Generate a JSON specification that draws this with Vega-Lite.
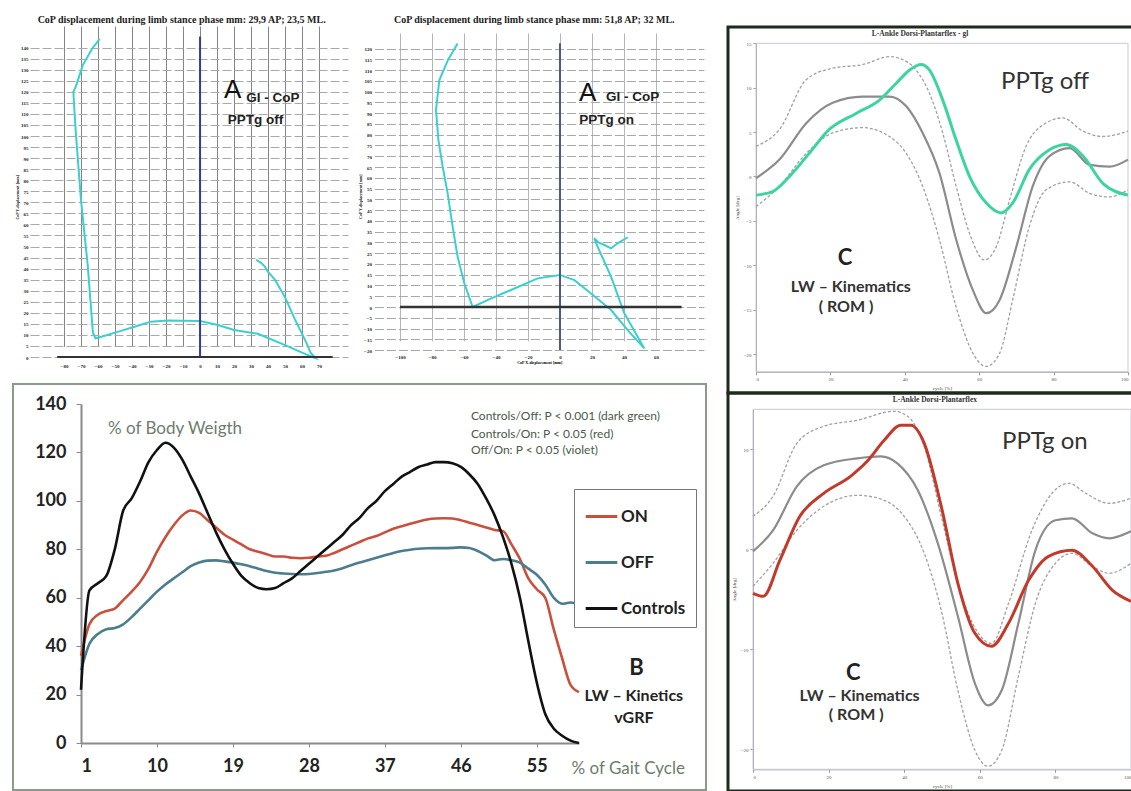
{
"$schema": "https://vega.github.io/schema/vega-lite/v6.json",
"padding": {"left": 12, "top": 0, "right": 0, "bottom": 0},
"background": "white",
"bounds": "full",
"spacing": 0,
"resolve": {"scale": {"color": "independent"}, "legend": {"color": "independent"}},
"config": {"view": {"stroke": null}, "concat": {"spacing": 0}},
"datasets": {
"a1": [{"o":1,"x":-59,"y":144},{"o":2,"x":-63.5,"y":139.5},{"o":3,"x":-69,"y":132},{"o":4,"x":-73,"y":122.5},{"o":5,"x":-74.5,"y":120},{"o":6,"x":-74,"y":113},{"o":7,"x":-73,"y":101},{"o":8,"x":-71.5,"y":86},{"o":9,"x":-70,"y":71},{"o":10,"x":-68,"y":56},{"o":11,"x":-66,"y":41},{"o":12,"x":-64.5,"y":26},{"o":13,"x":-63,"y":11},{"o":14,"x":-61.5,"y":8.5},{"o":15,"x":-58,"y":9.2},{"o":16,"x":-48,"y":11.5},{"o":17,"x":-38.5,"y":13.7},{"o":18,"x":-29,"y":16},{"o":19,"x":-19,"y":16.5},{"o":20,"x":-10,"y":16.4},{"o":21,"x":0,"y":16.3},{"o":22,"x":10.5,"y":14.5},{"o":23,"x":20,"y":12.2},{"o":24,"x":34,"y":10.5},{"o":25,"x":50,"y":5.4},{"o":26,"x":60,"y":2},{"o":27,"x":66,"y":0},{"o":28,"x":68,"y":-0.5},{"o":29,"x":65,"y":2},{"o":30,"x":62.5,"y":6.5},{"o":31,"x":56,"y":16.7},{"o":32,"x":50,"y":27},{"o":33,"x":44,"y":35},{"o":34,"x":40,"y":38.5},{"o":35,"x":38,"y":41},{"o":36,"x":36,"y":42.5},{"o":37,"x":33,"y":44}],
"a2": [{"o":1,"x":-64,"y":122.4},{"o":2,"x":-70,"y":114.7},{"o":3,"x":-75.4,"y":105.4},{"o":4,"x":-77.5,"y":91.5},{"o":5,"x":-76,"y":77.5},{"o":6,"x":-73.3,"y":65},{"o":7,"x":-70.2,"y":52.8},{"o":8,"x":-67.1,"y":37.3},{"o":9,"x":-64,"y":23.4},{"o":10,"x":-59.8,"y":11},{"o":11,"x":-54.6,"y":0},{"o":12,"x":-43,"y":4},{"o":13,"x":-30.6,"y":7.9},{"o":14,"x":-14,"y":13.3},{"o":15,"x":0,"y":14.9},{"o":16,"x":9,"y":12.5},{"o":17,"x":19.4,"y":6.3},{"o":18,"x":31.9,"y":-1.4},{"o":19,"x":42.3,"y":-10.7},{"o":20,"x":52.7,"y":-19.2},{"o":21,"x":40.2,"y":-2.9},{"o":22,"x":31.9,"y":14.1},{"o":23,"x":23.5,"y":28},{"o":24,"x":21.4,"y":31.9},{"o":25,"x":24,"y":30},{"o":26,"x":27.7,"y":28.8},{"o":27,"x":31.9,"y":27.2},{"o":28,"x":36,"y":29.6},{"o":29,"x":42.3,"y":32.4}],
"b": [
{"x":1,"ON":36,"OFF":30,"Controls":22},{"x":2,"ON":49,"OFF":41,"Controls":63},{"x":3,"ON":53,"OFF":45,"Controls":66},{"x":4,"ON":54.5,"OFF":47,"Controls":69},{"x":5,"ON":55.5,"OFF":47.5,"Controls":80},{"x":6,"ON":59,"OFF":49,"Controls":96},{"x":7,"ON":62.5,"OFF":52,"Controls":101},{"x":8,"ON":66.5,"OFF":55.5,"Controls":108},{"x":9,"ON":72,"OFF":59,"Controls":116},{"x":10,"ON":79,"OFF":62.5,"Controls":121},
{"x":11,"ON":85,"OFF":65.5,"Controls":124},{"x":12,"ON":90,"OFF":68,"Controls":122},{"x":13,"ON":94,"OFF":70.5,"Controls":117},{"x":14,"ON":96,"OFF":73,"Controls":110},{"x":15,"ON":95,"OFF":74.5,"Controls":103},{"x":16,"ON":92,"OFF":75.3,"Controls":95},{"x":17,"ON":89,"OFF":75.4,"Controls":87},{"x":18,"ON":86,"OFF":75,"Controls":80},{"x":19,"ON":84,"OFF":74.5,"Controls":74},{"x":20,"ON":82,"OFF":73.8,"Controls":69},
{"x":21,"ON":80,"OFF":73,"Controls":66},{"x":22,"ON":79,"OFF":72,"Controls":64},{"x":23,"ON":78,"OFF":71,"Controls":63.5},{"x":24,"ON":77,"OFF":70.3,"Controls":64},{"x":25,"ON":77,"OFF":70,"Controls":66},{"x":26,"ON":76.5,"OFF":69.8,"Controls":68},{"x":27,"ON":76.3,"OFF":69.7,"Controls":71},{"x":28,"ON":76.5,"OFF":69.8,"Controls":74},{"x":29,"ON":77,"OFF":70.2,"Controls":77},{"x":30,"ON":77.3,"OFF":70.7,"Controls":80},
{"x":31,"ON":78.5,"OFF":71.2,"Controls":83},{"x":32,"ON":80,"OFF":72.2,"Controls":86},{"x":33,"ON":81.5,"OFF":73.4,"Controls":90},{"x":34,"ON":83,"OFF":74.5,"Controls":93},{"x":35,"ON":84.5,"OFF":75.5,"Controls":97},{"x":36,"ON":85.5,"OFF":76.5,"Controls":100},{"x":37,"ON":87,"OFF":77.5,"Controls":104},{"x":38,"ON":88.5,"OFF":78.5,"Controls":107},{"x":39,"ON":89.5,"OFF":79.3,"Controls":110},{"x":40,"ON":90.5,"OFF":79.8,"Controls":112},
{"x":41,"ON":91.5,"OFF":80.2,"Controls":114},{"x":42,"ON":92.3,"OFF":80.4,"Controls":115},{"x":43,"ON":92.7,"OFF":80.5,"Controls":116},{"x":44,"ON":92.8,"OFF":80.5,"Controls":116},{"x":45,"ON":92.7,"OFF":80.6,"Controls":115.5},{"x":46,"ON":92,"OFF":80.8,"Controls":114},{"x":47,"ON":91,"OFF":80.5,"Controls":111},{"x":48,"ON":90,"OFF":79.3,"Controls":107},{"x":49,"ON":89,"OFF":77.5,"Controls":101},{"x":50,"ON":88,"OFF":75.5,"Controls":94},
{"x":51,"ON":87.5,"OFF":76,"Controls":85},{"x":52,"ON":82,"OFF":75.5,"Controls":74},{"x":53,"ON":76,"OFF":74.5,"Controls":60},{"x":54,"ON":68,"OFF":72,"Controls":42},{"x":55,"ON":63.5,"OFF":69.5,"Controls":25},{"x":56,"ON":60,"OFF":65.5,"Controls":12},{"x":57,"ON":47,"OFF":60,"Controls":6},{"x":58,"ON":35,"OFF":57.5,"Controls":3},{"x":59,"ON":24,"OFF":58,"Controls":1},{"x":60,"ON":21,"OFF":57,"Controls":0}],
"c1": [
{"s":"u","x":0,"y":3.4},{"s":"u","x":6.3,"y":5.3},{"s":"u","x":13.5,"y":10.9},{"s":"u","x":20.6,"y":12.2},{"s":"u","x":28.7,"y":12.6},{"s":"u","x":35.9,"y":13.5},{"s":"u","x":38.6,"y":13.3},{"s":"u","x":43,"y":12},{"s":"u","x":46.6,"y":9.4},{"s":"u","x":50.2,"y":4.9},{"s":"u","x":53.8,"y":-1.1},{"s":"u","x":57.4,"y":-6.4},{"s":"u","x":61.4,"y":-9.4},{"s":"u","x":64.6,"y":-7.9},{"s":"u","x":68.2,"y":-2.6},{"s":"u","x":72.6,"y":3.4},{"s":"u","x":77.1,"y":5.8},{"s":"u","x":82.5,"y":6.6},{"s":"u","x":87.9,"y":5.1},{"s":"u","x":93.3,"y":4.5},{"s":"u","x":100,"y":5.1},
{"s":"m","x":0,"y":-0.2},{"s":"m","x":6.3,"y":1.9},{"s":"m","x":13.5,"y":6},{"s":"m","x":20.6,"y":8.3},{"s":"m","x":28.7,"y":9},{"s":"m","x":35.9,"y":9},{"s":"m","x":40.4,"y":7.9},{"s":"m","x":44.8,"y":4.9},{"s":"m","x":49.3,"y":0.4},{"s":"m","x":53.8,"y":-7.1},{"s":"m","x":58.3,"y":-12.8},{"s":"m","x":61.9,"y":-15.4},{"s":"m","x":65.5,"y":-13.9},{"s":"m","x":70,"y":-7.9},{"s":"m","x":74.4,"y":-1.1},{"s":"m","x":78.9,"y":2.3},{"s":"m","x":84.3,"y":3.2},{"s":"m","x":89.7,"y":1.3},{"s":"m","x":95,"y":1.1},{"s":"m","x":100,"y":1.9},
{"s":"l","x":0,"y":-3.4},{"s":"l","x":6.3,"y":-1.1},{"s":"l","x":13.5,"y":2.6},{"s":"l","x":20.6,"y":4.9},{"s":"l","x":28.7,"y":5.5},{"s":"l","x":35.9,"y":4.5},{"s":"l","x":40.4,"y":2.6},{"s":"l","x":44.8,"y":-1.1},{"s":"l","x":49.3,"y":-7.1},{"s":"l","x":53.8,"y":-14.7},{"s":"l","x":58.3,"y":-19.9},{"s":"l","x":61.9,"y":-21.4},{"s":"l","x":65.5,"y":-19.9},{"s":"l","x":69,"y":-13.9},{"s":"l","x":73.5,"y":-5.6},{"s":"l","x":78,"y":-1.5},{"s":"l","x":84.3,"y":-0.6},{"s":"l","x":89.7,"y":-1.9},{"s":"l","x":95,"y":-2.3},{"s":"l","x":100,"y":-1.5},
{"s":"p","x":0,"y":-2.1},{"s":"p","x":4.5,"y":-1.7},{"s":"p","x":9,"y":0},{"s":"p","x":14.3,"y":2.6},{"s":"p","x":19.7,"y":5.3},{"s":"p","x":26.9,"y":7.1},{"s":"p","x":33.2,"y":8.6},{"s":"p","x":37.7,"y":10.5},{"s":"p","x":41.3,"y":12},{"s":"p","x":44.4,"y":12.6},{"s":"p","x":46.6,"y":12},{"s":"p","x":50.2,"y":8.6},{"s":"p","x":53.8,"y":4.1},{"s":"p","x":57.4,"y":0},{"s":"p","x":61.9,"y":-3},{"s":"p","x":65.9,"y":-4.1},{"s":"p","x":69,"y":-3},{"s":"p","x":73.5,"y":0.8},{"s":"p","x":78.9,"y":3},{"s":"p","x":83.4,"y":3.6},{"s":"p","x":87.9,"y":2.3},{"s":"p","x":93.3,"y":-0.8},{"s":"p","x":100,"y":-2.1}],
"c2": [
{"s":"u","x":0,"y":3.3},{"s":"u","x":5.3,"y":5.3},{"s":"u","x":11.6,"y":10.6},{"s":"u","x":18.7,"y":12.3},{"s":"u","x":27.6,"y":12.9},{"s":"u","x":37.3,"y":13.8},{"s":"u","x":40.9,"y":13.3},{"s":"u","x":45.3,"y":10.3},{"s":"u","x":49.8,"y":3.3},{"s":"u","x":54.2,"y":-3.4},{"s":"u","x":59.6,"y":-8.4},{"s":"u","x":63.1,"y":-9.4},{"s":"u","x":67.6,"y":-5.4},{"s":"u","x":73.8,"y":1.9},{"s":"u","x":79.1,"y":5.6},{"s":"u","x":83.6,"y":6.6},{"s":"u","x":88,"y":5.6},{"s":"u","x":94.2,"y":4.6},{"s":"u","x":100,"y":5.1},
{"s":"m","x":0,"y":-0.2},{"s":"m","x":5.3,"y":1.9},{"s":"m","x":11.6,"y":6.3},{"s":"m","x":18.7,"y":8.4},{"s":"m","x":27.6,"y":9.1},{"s":"m","x":33.8,"y":9.3},{"s":"m","x":38.2,"y":8.6},{"s":"m","x":43.6,"y":5.9},{"s":"m","x":48.9,"y":0.6},{"s":"m","x":54.2,"y":-6.7},{"s":"m","x":58.7,"y":-13.4},{"s":"m","x":62.2,"y":-15.6},{"s":"m","x":65.8,"y":-14.1},{"s":"m","x":70.2,"y":-7.4},{"s":"m","x":74.7,"y":-0.1},{"s":"m","x":80,"y":2.9},{"s":"m","x":84.4,"y":3.1},{"s":"m","x":89.8,"y":1.6},{"s":"m","x":94.2,"y":1.1},{"s":"m","x":100,"y":1.8},
{"s":"l","x":0,"y":-3.7},{"s":"l","x":5.3,"y":-1.4},{"s":"l","x":11.6,"y":1.9},{"s":"l","x":18.7,"y":4.3},{"s":"l","x":27.6,"y":5.4},{"s":"l","x":34.7,"y":4.9},{"s":"l","x":40,"y":3.3},{"s":"l","x":45.3,"y":-0.4},{"s":"l","x":49.8,"y":-6.1},{"s":"l","x":54.2,"y":-14.1},{"s":"l","x":58.7,"y":-20.1},{"s":"l","x":62.2,"y":-21.7},{"s":"l","x":65.8,"y":-20.1},{"s":"l","x":70.2,"y":-12.7},{"s":"l","x":74.7,"y":-5.4},{"s":"l","x":80,"y":-1.4},{"s":"l","x":84.4,"y":-0.4},{"s":"l","x":89.8,"y":-1.7},{"s":"l","x":94.2,"y":-2.4},{"s":"l","x":100,"y":-1.4},
{"s":"p","x":0,"y":-4.4},{"s":"p","x":2.7,"y":-4.7},{"s":"p","x":7.1,"y":-1.1},{"s":"p","x":12.4,"y":3.3},{"s":"p","x":18.7,"y":5.6},{"s":"p","x":25.8,"y":7.3},{"s":"p","x":30.2,"y":8.8},{"s":"p","x":34.7,"y":10.9},{"s":"p","x":39.1,"y":12.4},{"s":"p","x":41.8,"y":12.4},{"s":"p","x":45.3,"y":10.6},{"s":"p","x":49.8,"y":4.3},{"s":"p","x":54.2,"y":-3.4},{"s":"p","x":58.7,"y":-8.4},{"s":"p","x":63.1,"y":-9.7},{"s":"p","x":67.6,"y":-7.4},{"s":"p","x":72.9,"y":-3.1},{"s":"p","x":78.2,"y":-0.7},{"s":"p","x":84.4,"y":-0.1},{"s":"p","x":89.8,"y":-1.7},{"s":"p","x":95.1,"y":-4.1},{"s":"p","x":100,"y":-5.2}]
},
"hconcat": [
{"vconcat": [
 {"hconcat": [
  {"width": 343, "height": 383,
   "layer": [
    {"data": {"name": "a1"}, "mark": {"type": "line", "color": "#3ccfcf", "strokeWidth": 2},
     "encoding": {
      "x": {"field": "x", "type": "quantitative", "scale": {"domain": [-100, 87], "range": [17, 335], "nice": false, "zero": false},
            "axis": {"values": [-80,-70,-60,-50,-40,-30,-20,-10,0,10,20,30,40,50,60,70], "offset": -26, "grid": true, "gridColor": "#858585", "gridWidth": 1, "domain": false, "ticks": false, "labelFont": "Liberation Serif", "labelFontWeight": "bold", "labelFontSize": 5, "labelColor": "#222", "labelPadding": 6, "labelOverlap": false, "title": null}},
      "y": {"field": "y", "type": "quantitative", "scale": {"domain": [0, 145], "range": [357, 36.6], "nice": false, "zero": false},
            "axis": {"values": [0,5,10,15,20,25,30,35,40,45,50,55,60,65,70,75,80,85,90,95,100,105,110,115,120,125,130,135,140], "offset": -17, "grid": true, "gridColor": "#a8a8a8", "gridDash": [9, 3], "gridWidth": 1, "domain": false, "ticks": false, "labelFont": "Liberation Serif", "labelFontWeight": "bold", "labelFontSize": 5, "labelColor": "#222", "labelPadding": 2, "labelOverlap": false, "title": "CoP Y-displacement [mm]", "titleFontSize": 4, "titlePadding": 1, "titleFont": "Liberation Serif"}},
      "order": {"field": "o"}}},
    {"data": {"values": [{}]}, "mark": {"type": "rule", "color": "#2f3c9c", "strokeWidth": 2},
     "encoding": {
      "x": {"datum": 0, "type": "quantitative", "axis": {"values": [-80,-70,-60,-50,-40,-30,-20,-10,0,10,20,30,40,50,60,70], "offset": -26, "grid": true, "gridColor": "#858585", "gridWidth": 1, "domain": false, "ticks": false, "labelFont": "Liberation Serif", "labelFontWeight": "bold", "labelFontSize": 5, "labelColor": "#222", "labelPadding": 6, "labelOverlap": false, "title": null}},
      "y": {"datum": 0, "type": "quantitative", "axis": {"values": [0,5,10,15,20,25,30,35,40,45,50,55,60,65,70,75,80,85,90,95,100,105,110,115,120,125,130,135,140], "offset": -17, "grid": true, "gridColor": "#a8a8a8", "gridDash": [9, 3], "gridWidth": 1, "domain": false, "ticks": false, "labelFont": "Liberation Serif", "labelFontWeight": "bold", "labelFontSize": 5, "labelColor": "#222", "labelPadding": 2, "labelOverlap": false, "title": "CoP Y-displacement [mm]", "titleFontSize": 4, "titlePadding": 1, "titleFont": "Liberation Serif"}},
      "y2": {"datum": 145}}},
    {"data": {"values": [{}]}, "mark": {"type": "rule", "color": "#333333", "strokeWidth": 2},
     "encoding": {
      "x": {"datum": -84, "type": "quantitative", "axis": {"values": [-80,-70,-60,-50,-40,-30,-20,-10,0,10,20,30,40,50,60,70], "offset": -26, "grid": true, "gridColor": "#858585", "gridWidth": 1, "domain": false, "ticks": false, "labelFont": "Liberation Serif", "labelFontWeight": "bold", "labelFontSize": 5, "labelColor": "#222", "labelPadding": 6, "labelOverlap": false, "title": null}},
      "x2": {"datum": 78},
      "y": {"datum": 0, "type": "quantitative", "axis": {"values": [0,5,10,15,20,25,30,35,40,45,50,55,60,65,70,75,80,85,90,95,100,105,110,115,120,125,130,135,140], "offset": -17, "grid": true, "gridColor": "#a8a8a8", "gridDash": [9, 3], "gridWidth": 1, "domain": false, "ticks": false, "labelFont": "Liberation Serif", "labelFontWeight": "bold", "labelFontSize": 5, "labelColor": "#222", "labelPadding": 2, "labelOverlap": false, "title": "CoP Y-displacement [mm]", "titleFontSize": 4, "titlePadding": 1, "titleFont": "Liberation Serif"}}}},
    {"data": {"values": [{"t": "CoP displacement during limb stance phase mm: 29,9 AP; 23,5 ML.", "x": -95.5, "y": 152.5}]},
     "mark": {"type": "text", "font": "Liberation Serif", "fontWeight": "bold", "fontSize": 10, "align": "left", "baseline": "middle", "color": "#222"},
     "encoding": {"text": {"field": "t"},
      "x": {"field": "x", "type": "quantitative", "axis": {"values": [-80,-70,-60,-50,-40,-30,-20,-10,0,10,20,30,40,50,60,70], "offset": -26, "grid": true, "gridColor": "#858585", "gridWidth": 1, "domain": false, "ticks": false, "labelFont": "Liberation Serif", "labelFontWeight": "bold", "labelFontSize": 5, "labelColor": "#222", "labelPadding": 6, "labelOverlap": false, "title": null}},
      "y": {"field": "y", "type": "quantitative", "axis": {"values": [0,5,10,15,20,25,30,35,40,45,50,55,60,65,70,75,80,85,90,95,100,105,110,115,120,125,130,135,140], "offset": -17, "grid": true, "gridColor": "#a8a8a8", "gridDash": [9, 3], "gridWidth": 1, "domain": false, "ticks": false, "labelFont": "Liberation Serif", "labelFontWeight": "bold", "labelFontSize": 5, "labelColor": "#222", "labelPadding": 2, "labelOverlap": false, "title": "CoP Y-displacement [mm]", "titleFontSize": 4, "titlePadding": 1, "titleFont": "Liberation Serif"}}}},
    {"data": {"values": [{"t": "A", "x": 19.2, "y": 120.8}]},
     "mark": {"type": "text", "font": "Liberation Sans", "fontSize": 26, "align": "center", "baseline": "middle", "color": "#111"},
     "encoding": {"text": {"field": "t"},
      "x": {"field": "x", "type": "quantitative", "axis": {"values": [-80,-70,-60,-50,-40,-30,-20,-10,0,10,20,30,40,50,60,70], "offset": -26, "grid": true, "gridColor": "#858585", "gridWidth": 1, "domain": false, "ticks": false, "labelFont": "Liberation Serif", "labelFontWeight": "bold", "labelFontSize": 5, "labelColor": "#222", "labelPadding": 6, "labelOverlap": false, "title": null}},
      "y": {"field": "y", "type": "quantitative", "axis": {"values": [0,5,10,15,20,25,30,35,40,45,50,55,60,65,70,75,80,85,90,95,100,105,110,115,120,125,130,135,140], "offset": -17, "grid": true, "gridColor": "#a8a8a8", "gridDash": [9, 3], "gridWidth": 1, "domain": false, "ticks": false, "labelFont": "Liberation Serif", "labelFontWeight": "bold", "labelFontSize": 5, "labelColor": "#222", "labelPadding": 2, "labelOverlap": false, "title": "CoP Y-displacement [mm]", "titleFontSize": 4, "titlePadding": 1, "titleFont": "Liberation Serif"}}}},
    {"data": {"values": [{"t": "GI - CoP", "x": 27.1, "y": 117}, {"t": "PPTg off", "x": 16.3, "y": 107.2}]},
     "mark": {"type": "text", "font": "Liberation Sans", "fontWeight": "bold", "fontSize": 13.5, "align": "left", "baseline": "middle", "color": "#222"},
     "encoding": {"text": {"field": "t"},
      "x": {"field": "x", "type": "quantitative", "axis": {"values": [-80,-70,-60,-50,-40,-30,-20,-10,0,10,20,30,40,50,60,70], "offset": -26, "grid": true, "gridColor": "#858585", "gridWidth": 1, "domain": false, "ticks": false, "labelFont": "Liberation Serif", "labelFontWeight": "bold", "labelFontSize": 5, "labelColor": "#222", "labelPadding": 6, "labelOverlap": false, "title": null}},
      "y": {"field": "y", "type": "quantitative", "axis": {"values": [0,5,10,15,20,25,30,35,40,45,50,55,60,65,70,75,80,85,90,95,100,105,110,115,120,125,130,135,140], "offset": -17, "grid": true, "gridColor": "#a8a8a8", "gridDash": [9, 3], "gridWidth": 1, "domain": false, "ticks": false, "labelFont": "Liberation Serif", "labelFontWeight": "bold", "labelFontSize": 5, "labelColor": "#222", "labelPadding": 2, "labelOverlap": false, "title": "CoP Y-displacement [mm]", "titleFontSize": 4, "titlePadding": 1, "titleFont": "Liberation Serif"}}}}
   ]},
  {"width": 370, "height": 383,
   "layer": [
    {"data": {"name": "a2"}, "mark": {"type": "line", "color": "#3ccfcf", "strokeWidth": 2},
     "encoding": {
      "x": {"field": "x", "type": "quantitative", "scale": {"domain": [-116, 90], "range": [18.4, 348], "nice": false, "zero": false},
            "axis": {"values": [-100,-80,-60,-40,-20,0,20,40,60], "offset": -33, "grid": true, "gridColor": "#b5b5b5", "gridWidth": 1, "domain": false, "ticks": false, "labelFont": "Liberation Serif", "labelFontWeight": "bold", "labelFontSize": 5, "labelColor": "#222", "labelPadding": 4, "labelOverlap": false, "title": "CoP X-displacement [mm]", "titleFontSize": 4, "titlePadding": 1, "titleFont": "Liberation Serif"}},
      "y": {"field": "y", "type": "quantitative", "scale": {"domain": [-20, 123], "range": [350.1, 42.1], "nice": false, "zero": false},
            "axis": {"values": [-20,-15,-10,-5,0,5,10,15,20,25,30,35,40,45,50,55,60,65,70,75,80,85,90,95,100,105,110,115,120], "offset": -18.4, "grid": true, "gridColor": "#a8a8a8", "gridDash": [9, 3], "gridWidth": 1, "domain": false, "ticks": false, "labelFont": "Liberation Serif", "labelFontWeight": "bold", "labelFontSize": 5, "labelColor": "#222", "labelPadding": 3, "labelOverlap": false, "title": "CoP Y-displacement [mm]", "titleFontSize": 4, "titlePadding": 1, "titleFont": "Liberation Serif"}},
      "order": {"field": "o"}}},
    {"data": {"values": [{}]}, "mark": {"type": "rule", "color": "#4b5a8e", "strokeWidth": 2},
     "encoding": {
      "x": {"datum": 0, "type": "quantitative", "axis": {"values": [-100,-80,-60,-40,-20,0,20,40,60], "offset": -33, "grid": true, "gridColor": "#b5b5b5", "gridWidth": 1, "domain": false, "ticks": false, "labelFont": "Liberation Serif", "labelFontWeight": "bold", "labelFontSize": 5, "labelColor": "#222", "labelPadding": 4, "labelOverlap": false, "title": "CoP X-displacement [mm]", "titleFontSize": 4, "titlePadding": 1, "titleFont": "Liberation Serif"}},
      "y": {"datum": -20, "type": "quantitative", "axis": {"values": [-20,-15,-10,-5,0,5,10,15,20,25,30,35,40,45,50,55,60,65,70,75,80,85,90,95,100,105,110,115,120], "offset": -18.4, "grid": true, "gridColor": "#a8a8a8", "gridDash": [9, 3], "gridWidth": 1, "domain": false, "ticks": false, "labelFont": "Liberation Serif", "labelFontWeight": "bold", "labelFontSize": 5, "labelColor": "#222", "labelPadding": 3, "labelOverlap": false, "title": "CoP Y-displacement [mm]", "titleFontSize": 4, "titlePadding": 1, "titleFont": "Liberation Serif"}},
      "y2": {"datum": 122.5}}},
    {"data": {"values": [{}]}, "mark": {"type": "rule", "color": "#333333", "strokeWidth": 2.5},
     "encoding": {
      "x": {"datum": -100, "type": "quantitative", "axis": {"values": [-100,-80,-60,-40,-20,0,20,40,60], "offset": -33, "grid": true, "gridColor": "#b5b5b5", "gridWidth": 1, "domain": false, "ticks": false, "labelFont": "Liberation Serif", "labelFontWeight": "bold", "labelFontSize": 5, "labelColor": "#222", "labelPadding": 4, "labelOverlap": false, "title": "CoP X-displacement [mm]", "titleFontSize": 4, "titlePadding": 1, "titleFont": "Liberation Serif"}},
      "x2": {"datum": 76},
      "y": {"datum": 0, "type": "quantitative", "axis": {"values": [-20,-15,-10,-5,0,5,10,15,20,25,30,35,40,45,50,55,60,65,70,75,80,85,90,95,100,105,110,115,120], "offset": -18.4, "grid": true, "gridColor": "#a8a8a8", "gridDash": [9, 3], "gridWidth": 1, "domain": false, "ticks": false, "labelFont": "Liberation Serif", "labelFontWeight": "bold", "labelFontSize": 5, "labelColor": "#222", "labelPadding": 3, "labelOverlap": false, "title": "CoP Y-displacement [mm]", "titleFontSize": 4, "titlePadding": 1, "titleFont": "Liberation Serif"}}}},
    {"data": {"values": [{"t": "CoP displacement during limb stance phase mm: 51,8 AP; 32 ML.", "x": -103.75, "y": 133.2}]},
     "mark": {"type": "text", "font": "Liberation Serif", "fontWeight": "bold", "fontSize": 10, "align": "left", "baseline": "middle", "color": "#222"},
     "encoding": {"text": {"field": "t"},
      "x": {"field": "x", "type": "quantitative", "axis": {"values": [-100,-80,-60,-40,-20,0,20,40,60], "offset": -33, "grid": true, "gridColor": "#b5b5b5", "gridWidth": 1, "domain": false, "ticks": false, "labelFont": "Liberation Serif", "labelFontWeight": "bold", "labelFontSize": 5, "labelColor": "#222", "labelPadding": 4, "labelOverlap": false, "title": "CoP X-displacement [mm]", "titleFontSize": 4, "titlePadding": 1, "titleFont": "Liberation Serif"}},
      "y": {"field": "y", "type": "quantitative", "axis": {"values": [-20,-15,-10,-5,0,5,10,15,20,25,30,35,40,45,50,55,60,65,70,75,80,85,90,95,100,105,110,115,120], "offset": -18.4, "grid": true, "gridColor": "#a8a8a8", "gridDash": [9, 3], "gridWidth": 1, "domain": false, "ticks": false, "labelFont": "Liberation Serif", "labelFontWeight": "bold", "labelFontSize": 5, "labelColor": "#222", "labelPadding": 3, "labelOverlap": false, "title": "CoP Y-displacement [mm]", "titleFontSize": 4, "titlePadding": 1, "titleFont": "Liberation Serif"}}}},
    {"data": {"values": [{"t": "A", "x": 17.3, "y": 99.2}]},
     "mark": {"type": "text", "font": "Liberation Sans", "fontSize": 26, "align": "center", "baseline": "middle", "color": "#111"},
     "encoding": {"text": {"field": "t"},
      "x": {"field": "x", "type": "quantitative", "axis": {"values": [-100,-80,-60,-40,-20,0,20,40,60], "offset": -33, "grid": true, "gridColor": "#b5b5b5", "gridWidth": 1, "domain": false, "ticks": false, "labelFont": "Liberation Serif", "labelFontWeight": "bold", "labelFontSize": 5, "labelColor": "#222", "labelPadding": 4, "labelOverlap": false, "title": "CoP X-displacement [mm]", "titleFontSize": 4, "titlePadding": 1, "titleFont": "Liberation Serif"}},
      "y": {"field": "y", "type": "quantitative", "axis": {"values": [-20,-15,-10,-5,0,5,10,15,20,25,30,35,40,45,50,55,60,65,70,75,80,85,90,95,100,105,110,115,120], "offset": -18.4, "grid": true, "gridColor": "#a8a8a8", "gridDash": [9, 3], "gridWidth": 1, "domain": false, "ticks": false, "labelFont": "Liberation Serif", "labelFontWeight": "bold", "labelFontSize": 5, "labelColor": "#222", "labelPadding": 3, "labelOverlap": false, "title": "CoP Y-displacement [mm]", "titleFontSize": 4, "titlePadding": 1, "titleFont": "Liberation Serif"}}}},
    {"data": {"values": [{"t": "GI - CoP", "x": 28.8, "y": 97.6}, {"t": "PPTg on", "x": 12.1, "y": 86.8}]},
     "mark": {"type": "text", "font": "Liberation Sans", "fontWeight": "bold", "fontSize": 13.5, "align": "left", "baseline": "middle", "color": "#222"},
     "encoding": {"text": {"field": "t"},
      "x": {"field": "x", "type": "quantitative", "axis": {"values": [-100,-80,-60,-40,-20,0,20,40,60], "offset": -33, "grid": true, "gridColor": "#b5b5b5", "gridWidth": 1, "domain": false, "ticks": false, "labelFont": "Liberation Serif", "labelFontWeight": "bold", "labelFontSize": 5, "labelColor": "#222", "labelPadding": 4, "labelOverlap": false, "title": "CoP X-displacement [mm]", "titleFontSize": 4, "titlePadding": 1, "titleFont": "Liberation Serif"}},
      "y": {"field": "y", "type": "quantitative", "axis": {"values": [-20,-15,-10,-5,0,5,10,15,20,25,30,35,40,45,50,55,60,65,70,75,80,85,90,95,100,105,110,115,120], "offset": -18.4, "grid": true, "gridColor": "#a8a8a8", "gridDash": [9, 3], "gridWidth": 1, "domain": false, "ticks": false, "labelFont": "Liberation Serif", "labelFontWeight": "bold", "labelFontSize": 5, "labelColor": "#222", "labelPadding": 3, "labelOverlap": false, "title": "CoP Y-displacement [mm]", "titleFontSize": 4, "titlePadding": 1, "titleFont": "Liberation Serif"}}}}
   ]}
 ], "spacing": 0, "bounds": "flush", "resolve": {"scale": {"color": "independent"}, "legend": {"color": "independent"}}},
 {"width": 693, "height": 406,
  "view": {"stroke": "#8c9a8c", "strokeWidth": 2},
  "layer": [
   {"data": {"name": "b"},
    "transform": [{"fold": ["ON", "OFF", "Controls"], "as": ["series", "value"]}],
    "mark": {"type": "line", "strokeWidth": 2.6, "interpolate": "monotone"},
    "encoding": {
     "x": {"field": "x", "type": "quantitative", "scale": {"domain": [1, 60], "range": [68, 566], "nice": false, "zero": false},
           "axis": {"values": [1,10,19,28,37,46,55], "offset": -47, "grid": false, "domain": true, "domainColor": "#8a8a8a", "domainWidth": 2, "ticks": true, "tickColor": "#8a8a8a", "tickSize": 4, "labelFont": "Lato", "labelFontWeight": "bold", "labelFontSize": 18, "labelColor": "#222", "labelPadding": 10, "labelOverlap": false, "title": "% of Gait Cycle", "titleFont": "Lato", "titleFontWeight": "normal", "titleFontSize": 17, "titleColor": "#6d7d6d", "titleX": 558, "titleY": 25, "titleAlign": "left", "titleBaseline": "middle", "titleAngle": 0}},
     "y": {"field": "value", "type": "quantitative", "scale": {"domain": [0, 140], "range": [359, 20], "nice": false, "zero": false},
           "axis": {"values": [0,20,40,60,80,100,120,140], "offset": -68, "grid": false, "domain": true, "domainColor": "#8a8a8a", "domainWidth": 2, "ticks": true, "tickColor": "#8a8a8a", "tickSize": 5, "labelFont": "Lato", "labelFontWeight": "bold", "labelFontSize": 18, "labelColor": "#222", "labelPadding": 10, "labelOverlap": false, "title": null}},
     "color": {"field": "series", "type": "nominal", "scale": {"domain": ["ON", "OFF", "Controls"], "range": ["#c9503d", "#4b7d8d", "#111111"]},
           "legend": {"orient": "none", "legendX": 561, "legendY": 105, "title": null, "symbolType": "stroke", "symbolSize": 1000, "symbolStrokeWidth": 3, "labelFont": "Lato", "labelFontWeight": "bold", "labelFontSize": 17, "labelColor": "#222", "strokeColor": "#777", "fillColor": "#ffffff", "padding": 10, "rowPadding": 20, "labelOffset": 2}}}},
   {"data": {"values": [{}]}, "mark": {"type": "text", "text": "% of Body Weigth", "font": "Lato", "fontSize": 17, "align": "left", "baseline": "middle", "color": "#6d7d6d"}, "encoding": {"x": {"datum": 4.2}, "y": {"datum": 129.7}}},
   {"data": {"values": [{}]}, "mark": {"type": "text", "text": "Controls/Off: P < 0.001 (dark green)", "font": "Lato", "fontSize": 12, "align": "left", "baseline": "middle", "color": "#4a5a4a"}, "encoding": {"x": {"datum": 47.2}, "y": {"datum": 135.1}}},
   {"data": {"values": [{}]}, "mark": {"type": "text", "text": "Controls/On: P < 0.05 (red)", "font": "Lato", "fontSize": 12, "align": "left", "baseline": "middle", "color": "#4a5a4a"}, "encoding": {"x": {"datum": 47.2}, "y": {"datum": 127.7}}},
   {"data": {"values": [{}]}, "mark": {"type": "text", "text": "Off/On: P < 0.05 (violet)", "font": "Lato", "fontSize": 12, "align": "left", "baseline": "middle", "color": "#4a5a4a"}, "encoding": {"x": {"datum": 47.2}, "y": {"datum": 121.1}}},
   {"data": {"values": [{}]}, "mark": {"type": "text", "text": "B", "font": "Lato", "fontWeight": "bold", "fontSize": 22, "align": "center", "baseline": "middle", "color": "#222"}, "encoding": {"x": {"datum": 66.8}, "y": {"datum": 31}}},
   {"data": {"values": [{}]}, "mark": {"type": "text", "text": "LW – Kinetics", "font": "Lato", "fontWeight": "bold", "fontSize": 16, "align": "center", "baseline": "middle", "color": "#222"}, "encoding": {"x": {"datum": 66.5}, "y": {"datum": 19.4}}},
   {"data": {"values": [{}]}, "mark": {"type": "text", "text": "vGRF", "font": "Lato", "fontWeight": "bold", "fontSize": 16, "align": "center", "baseline": "middle", "color": "#222"}, "encoding": {"x": {"datum": 66.5}, "y": {"datum": 10.2}}}
  ]}
], "spacing": 0, "bounds": "full", "resolve": {"scale": {"color": "independent"}, "legend": {"color": "independent"}}},
{"vconcat": [
 {"width": 410, "height": 27, "data": {"values": [{}]}, "mark": {"type": "text", "text": ""}, "encoding": {}},
 {"width": 410, "height": 366,
  "view": {"stroke": "#1d2a1d", "strokeWidth": 3},
  "layer": [
   {"data": {"values": [{}]}, "mark": {"type": "rect", "filled": false, "stroke": "#c9c9d9", "strokeWidth": 1},
    "encoding": {
     "x": {"datum": 0, "type": "quantitative", "scale": {"domain": [0, 100], "range": [28, 400], "nice": false, "zero": false},
           "axis": {"values": [0,20,40,60,80,100], "offset": -21.2, "grid": false, "domainColor": "#9a9a9a", "tickColor": "#9a9a9a", "tickSize": 3, "labelFont": "Liberation Serif", "labelFontSize": 5, "labelColor": "#555", "labelPadding": 2, "labelOverlap": false, "title": "cycle [%]", "titleFont": "Liberation Serif", "titleFontWeight": "normal", "titleFontSize": 5, "titleColor": "#444", "titlePadding": 4}},
     "x2": {"datum": 100},
     "y": {"datum": -22, "type": "quantitative", "scale": {"domain": [-22, 15], "range": [344.8, 16.3], "nice": false, "zero": false},
           "axis": {"values": [15,10,5,0,-5,-10,-15,-20], "offset": -28, "grid": false, "domainColor": "#9a9a9a", "tickColor": "#9a9a9a", "tickSize": 3, "labelFont": "Liberation Serif", "labelFontSize": 5, "labelColor": "#555", "labelPadding": 2, "labelOverlap": false, "title": "Angle [deg]", "titleFont": "Liberation Serif", "titleFontWeight": "normal", "titleFontSize": 5, "titleColor": "#444", "titlePadding": 4}},
     "y2": {"datum": 15}}},
   {"data": {"name": "c1"}, "transform": [{"filter": "datum.s === 'u'"}], "mark": {"type": "line", "color": "#a0a0a0", "strokeWidth": 1.3, "strokeDash": [3, 2], "interpolate": "monotone"}, "encoding": {"x": {"field": "x", "type": "quantitative"}, "y": {"field": "y", "type": "quantitative"}}},
   {"data": {"name": "c1"}, "transform": [{"filter": "datum.s === 'l'"}], "mark": {"type": "line", "color": "#a0a0a0", "strokeWidth": 1.3, "strokeDash": [3, 2], "interpolate": "monotone"}, "encoding": {"x": {"field": "x", "type": "quantitative"}, "y": {"field": "y", "type": "quantitative"}}},
   {"data": {"name": "c1"}, "transform": [{"filter": "datum.s === 'm'"}], "mark": {"type": "line", "color": "#8c8c8c", "strokeWidth": 2.2, "interpolate": "monotone"}, "encoding": {"x": {"field": "x", "type": "quantitative"}, "y": {"field": "y", "type": "quantitative"}}},
   {"data": {"name": "c1"}, "transform": [{"filter": "datum.s === 'p'"}], "mark": {"type": "line", "color": "#3dd4a2", "strokeWidth": 3, "interpolate": "monotone"}, "encoding": {"x": {"field": "x", "type": "quantitative"}, "y": {"field": "y", "type": "quantitative"}}},
   {"data": {"values": [{}]}, "mark": {"type": "text", "text": "L-Ankle Dorsi-Plantarflex - gl", "font": "Liberation Serif", "fontWeight": "bold", "fontSize": 7.5, "align": "center", "baseline": "middle", "color": "#333"}, "encoding": {"x": {"datum": 44.1}, "y": {"datum": 16}}},
   {"data": {"values": [{}]}, "mark": {"type": "text", "text": "PPTg off", "font": "Lato", "fontSize": 24, "align": "center", "baseline": "middle", "color": "#333"}, "encoding": {"x": {"datum": 77.7}, "y": {"datum": 10.6}}},
   {"data": {"values": [{}]}, "mark": {"type": "text", "text": "C", "font": "Lato", "fontWeight": "bold", "fontSize": 22, "align": "center", "baseline": "middle", "color": "#222"}, "encoding": {"x": {"datum": 23.9}, "y": {"datum": -9.2}}},
   {"data": {"values": [{}]}, "mark": {"type": "text", "text": "LW – Kinematics", "font": "Lato", "fontWeight": "bold", "fontSize": 16, "align": "center", "baseline": "middle", "color": "#333"}, "encoding": {"x": {"datum": 25.5}, "y": {"datum": -12.4}}},
   {"data": {"values": [{}]}, "mark": {"type": "text", "text": "( ROM )", "font": "Lato", "fontWeight": "bold", "fontSize": 16, "align": "center", "baseline": "middle", "color": "#333"}, "encoding": {"x": {"datum": 24.2}, "y": {"datum": -14.7}}}
  ]},
 {"width": 410, "height": 398,
  "view": {"stroke": "#1d2a1d", "strokeWidth": 3},
  "layer": [
   {"data": {"values": [{}]}, "mark": {"type": "rect", "filled": false, "stroke": "#c9c9d9", "strokeWidth": 1},
    "encoding": {
     "x": {"datum": 0, "type": "quantitative", "scale": {"domain": [0, 100], "range": [25, 403], "nice": false, "zero": false},
           "axis": {"values": [0,20,40,60,80,100], "offset": -21.7, "grid": false, "domainColor": "#9a9a9a", "tickColor": "#9a9a9a", "tickSize": 3, "labelFont": "Liberation Serif", "labelFontSize": 5, "labelColor": "#555", "labelPadding": 2, "labelOverlap": false, "title": "cycle [%]", "titleFont": "Liberation Serif", "titleFontWeight": "normal", "titleFontSize": 5, "titleColor": "#444", "titlePadding": 4}},
     "x2": {"datum": 100},
     "y": {"datum": -22, "type": "quantitative", "scale": {"domain": [-22, 14], "range": [376.3, 16.3], "nice": false, "zero": false},
           "axis": {"values": [10,0,-10,-20], "offset": -25, "grid": false, "domainColor": "#9a9a9a", "tickColor": "#9a9a9a", "tickSize": 3, "labelFont": "Liberation Serif", "labelFontSize": 5, "labelColor": "#555", "labelPadding": 2, "labelOverlap": false, "title": "Angle [deg]", "titleFont": "Liberation Serif", "titleFontWeight": "normal", "titleFontSize": 5, "titleColor": "#444", "titlePadding": 4}},
     "y2": {"datum": 14}}},
   {"data": {"name": "c2"}, "transform": [{"filter": "datum.s === 'u'"}], "mark": {"type": "line", "color": "#a0a0a0", "strokeWidth": 1.3, "strokeDash": [3, 2], "interpolate": "monotone"}, "encoding": {"x": {"field": "x", "type": "quantitative"}, "y": {"field": "y", "type": "quantitative"}}},
   {"data": {"name": "c2"}, "transform": [{"filter": "datum.s === 'l'"}], "mark": {"type": "line", "color": "#a0a0a0", "strokeWidth": 1.3, "strokeDash": [3, 2], "interpolate": "monotone"}, "encoding": {"x": {"field": "x", "type": "quantitative"}, "y": {"field": "y", "type": "quantitative"}}},
   {"data": {"name": "c2"}, "transform": [{"filter": "datum.s === 'm'"}], "mark": {"type": "line", "color": "#8c8c8c", "strokeWidth": 2.2, "interpolate": "monotone"}, "encoding": {"x": {"field": "x", "type": "quantitative"}, "y": {"field": "y", "type": "quantitative"}}},
   {"data": {"name": "c2"}, "transform": [{"filter": "datum.s === 'p'"}], "mark": {"type": "line", "color": "#c23a2c", "strokeWidth": 3, "interpolate": "monotone"}, "encoding": {"x": {"field": "x", "type": "quantitative"}, "y": {"field": "y", "type": "quantitative"}}},
   {"data": {"values": [{}]}, "mark": {"type": "text", "text": "L-Ankle Dorsi-Plantarflex", "font": "Liberation Serif", "fontWeight": "bold", "fontSize": 7.5, "align": "center", "baseline": "middle", "color": "#333"}, "encoding": {"x": {"datum": 48.1}, "y": {"datum": 14.9}}},
   {"data": {"values": [{}]}, "mark": {"type": "text", "text": "PPTg on", "font": "Lato", "fontSize": 24, "align": "center", "baseline": "middle", "color": "#333"}, "encoding": {"x": {"datum": 77.2}, "y": {"datum": 10.7}}},
   {"data": {"values": [{}]}, "mark": {"type": "text", "text": "C", "font": "Lato", "fontWeight": "bold", "fontSize": 22, "align": "center", "baseline": "middle", "color": "#222"}, "encoding": {"x": {"datum": 26.5}, "y": {"datum": -12.4}}},
   {"data": {"values": [{}]}, "mark": {"type": "text", "text": "LW – Kinematics", "font": "Lato", "fontWeight": "bold", "fontSize": 16, "align": "center", "baseline": "middle", "color": "#333"}, "encoding": {"x": {"datum": 28.2}, "y": {"datum": -14.7}}},
   {"data": {"values": [{}]}, "mark": {"type": "text", "text": "( ROM )", "font": "Lato", "fontWeight": "bold", "fontSize": 16, "align": "center", "baseline": "middle", "color": "#333"}, "encoding": {"x": {"datum": 27.3}, "y": {"datum": -16.6}}}
  ]}
], "spacing": 0, "bounds": "flush", "resolve": {"scale": {"color": "independent"}, "legend": {"color": "independent"}}}
]
}
